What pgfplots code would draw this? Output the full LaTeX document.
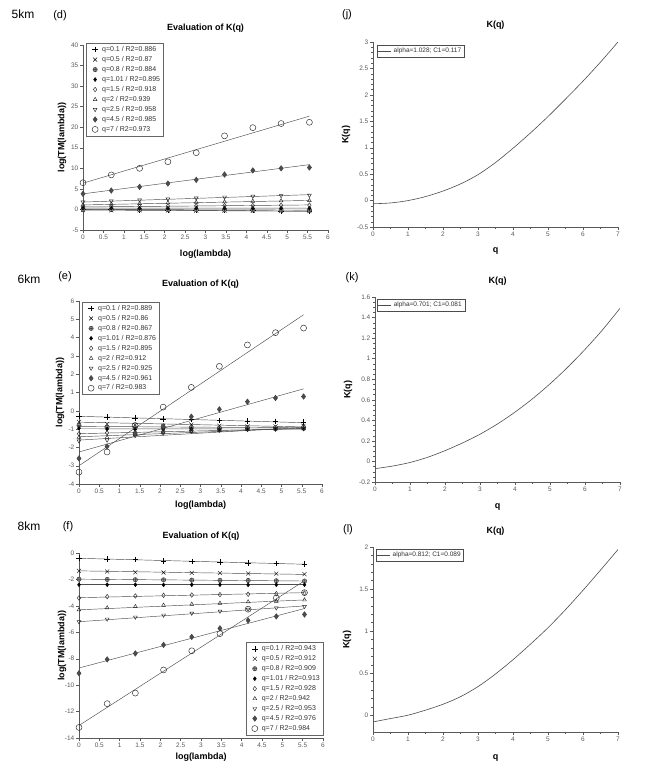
\documentclass[border=0pt]{standalone}
\usepackage{pgfplots}
\usepackage{pgfplotstable}
\pgfplotsset{compat=1.18}
\usepackage{fontspec}
\setmainfont{Liberation Sans}

\pgfplotstableread{
x q01 q05 q08 q101 q15 q2 q25 q45 q7
0     0.05 -0.15  0.00 0.30 0.60 1.10 1.80  3.8  6.5
0.693 0.00 -0.20 -0.02 0.32 0.70 1.30 2.05  4.6  8.4
1.386 -0.10 -0.20 -0.04 0.30 0.75 1.45 2.30  5.5 10.0
2.079 -0.15 -0.25 -0.05 0.30 0.80 1.60 2.55  6.3 11.6
2.773 -0.20 -0.30 -0.07 0.32 0.85 1.75 2.80  7.2 13.8
3.466 -0.25 -0.30 -0.09 0.30 0.90 1.85 3.00  8.5 17.9
4.159 -0.30 -0.35 -0.11 0.30 0.95 2.00 3.20  9.5 19.9
4.852 -0.38 -0.38 -0.13 0.32 1.00 2.10 3.35 10.0 20.9
5.545 -0.45 -0.40 -0.15 0.30 1.05 2.15 3.45 10.2 21.2
}\dataD

\pgfplotstableread{
x q01 q05 q08 q101 q15 q2 q25 q45 q7
0     -0.30 -0.60 -0.80 -0.95 -1.25 -1.45 -1.65 -2.60 -3.35
0.693 -0.35 -0.72 -0.90 -1.00 -1.20 -1.45 -1.60 -1.95 -2.25
1.386 -0.38 -0.78 -0.92 -1.02 -1.18 -1.30 -1.35 -1.25 -0.80
2.079 -0.45 -0.82 -0.90 -1.00 -1.12 -1.20 -1.22 -0.85  0.20
2.773 -0.48 -0.75 -0.92 -1.00 -1.08 -1.12 -1.12 -0.32  1.28
3.466 -0.52 -0.82 -0.95 -1.02 -1.05 -1.08 -1.05  0.08  2.43
4.159 -0.55 -0.85 -0.93 -1.00 -1.02 -1.02 -1.00  0.50  3.60
4.852 -0.58 -0.85 -0.92 -1.00 -1.00 -1.00 -0.98  0.70  4.27
5.545 -0.62 -0.82 -0.90 -0.98 -0.98 -0.98 -0.95  0.78  4.52
}\dataE

\pgfplotstableread{
x q01 q05 q08 q101 q15 q2 q25 q45 q7
0     -0.40 -1.35 -1.98 -2.40 -3.40 -4.30 -5.20 -9.10 -13.20
0.693 -0.45 -1.40 -2.00 -2.40 -3.30 -4.15 -5.00 -8.05 -11.40
1.386 -0.50 -1.45 -2.02 -2.40 -3.25 -4.05 -4.85 -7.60 -10.60
2.079 -0.60 -1.48 -2.03 -2.41 -3.20 -3.95 -4.70 -6.95  -8.85
2.773 -0.65 -1.50 -2.05 -2.40 -3.18 -3.88 -4.55 -6.35  -7.40
3.466 -0.70 -1.52 -2.07 -2.40 -3.15 -3.80 -4.40 -5.70  -6.10
4.159 -0.75 -1.55 -2.08 -2.41 -3.12 -3.70 -4.25 -5.10  -4.25
4.852 -0.80 -1.56 -2.10 -2.40 -3.08 -3.65 -4.15 -4.80  -3.40
5.545 -0.85 -1.60 -2.12 -2.40 -3.03 -3.55 -4.05 -4.65  -3.00
}\dataF

\pgfplotsset{
  base/.style={
    scale only axis,
    axis x line*=bottom, axis y line*=left,
    axis line style={black!65, line width=0.5pt},
    tick align=outside,
    tick style={black!65, line width=0.4pt},
    major tick length=3pt, minor tick length=1.6pt,
    /pgf/number format/assume math mode=true,
    tick label style={font=\fontsize{6.5}{7}\selectfont, text=black!65},
    xticklabel style={inner sep=1.5pt},
    yticklabel style={inner sep=1.5pt},
    title style={font=\bfseries\fontsize{9}{10}\selectfont, at={(axis description cs:0.5,1)}, anchor=center},
    label style={font=\bfseries\fontsize{9}{10}\selectfont},
  },
  leftp/.style={base,
    width=244pt, height=185pt,
    xmin=0, xmax=6, xtick={0,0.5,1,1.5,2,2.5,3,3.5,4,4.5,5,5.5,6},
    xlabel={log(lambda)}, ylabel={log(TM(lambda))},
    title={Evaluation of K(q)},
    legend style={font=\fontsize{7}{8}\selectfont, draw=black!60, line width=0.4pt,
      inner sep=1pt, row sep=-0.6pt, cells={anchor=west}, text=black!80},
    legend image code/.code={\path[draw=none, fill=none] (0pt,-2pt) rectangle (13pt,2pt); \draw[##1] plot coordinates {(8pt,0pt)};},
  },
  rightp/.style={base,
    width=245pt, height=185pt,
    xmin=0, xmax=7, xtick={0,1,2,3,4,5,6,7}, minor x tick num=1,
    xlabel={q}, ylabel={K(q)}, title={K(q)},
    legend style={font=\fontsize{6.5}{7}\selectfont, draw=black!70, line width=0.4pt,
      inner sep=1pt, text=black!80, at={(0.016,0.985)}, anchor=north west},
    legend image code/.code={\draw[##1] (2pt,0pt) -- (15pt,0pt);},
  },
  fitl/.style={black!70, line width=0.45pt},
  kcurve/.style={black!70, line width=0.6pt, smooth},
}

\newcommand{\markplots}[1]{%
  \addplot[only marks, mark=+, mark size=2.8pt, black, line width=0.4pt] table[x=x,y=q01]{#1};
  \addplot[only marks, mark=x, mark size=2.8pt, black, line width=0.4pt] table[x=x,y=q05]{#1};
  \addplot[only marks, mark=oplus*, mark size=2.2pt, black!80, fill=black!40, line width=0.4pt] table[x=x,y=q08]{#1};
  \addplot[only marks, mark=diamond*, mark size=2pt, black] table[x=x,y=q101]{#1};
  \addplot[only marks, mark=diamond, mark size=2.3pt, black!85, line width=0.45pt] table[x=x,y=q15]{#1};
  \addplot[only marks, mark=triangle, mark size=2.2pt, black!85, line width=0.45pt] table[x=x,y=q2]{#1};
  \addplot[only marks, mark=triangle, mark size=2.2pt, black!85, line width=0.45pt, mark options={rotate=180}] table[x=x,y=q25]{#1};
  \addplot[only marks, mark=diamond*, mark size=2.8pt, black!75, fill=black!70] table[x=x,y=q45]{#1};
  \addplot[only marks, mark=o, mark size=3pt, black!85, line width=0.45pt] table[x=x,y=q7]{#1};
}
\newcommand{\fitline}[2]{\addplot[fitl, forget plot] coordinates {(0,#1) (5.545,#2)};}

\begin{document}
\begin{tikzpicture}
\path[use as bounding box] (0pt,0pt) rectangle (661pt,-769pt);

% corner labels
\node[font=\fontsize{12}{13}\selectfont] at (23pt,-14pt) {5km};
\node[font=\fontsize{11}{12}\selectfont] at (60pt,-16pt) {(d)};
\node[font=\fontsize{11}{12}\selectfont] at (347pt,-15pt) {(j)};
\node[font=\fontsize{12}{13}\selectfont] at (29pt,-279pt) {6km};
\node[font=\fontsize{11}{12}\selectfont] at (65pt,-277pt) {(e)};
\node[font=\fontsize{11}{12}\selectfont] at (352pt,-278pt) {(k)};
\node[font=\fontsize{12}{13}\selectfont] at (29pt,-526pt) {8km};
\node[font=\fontsize{11}{12}\selectfont] at (68pt,-527pt) {(f)};
\node[font=\fontsize{11}{12}\selectfont] at (348pt,-530pt) {(l)};

% ---------- (d)
\begin{axis}[leftp, at={(83pt,-230pt)}, anchor=south west, width=245pt,
  ymin=-5, ymax=40, ytick={-5,0,5,10,15,20,25,30,35,40},
  title style={yshift=11pt},
  xlabel style={at={(axis description cs:0.5,0)}, anchor=center, yshift=-24pt},
  ylabel style={at={(axis description cs:0,0.5)}, anchor=center, yshift=21pt},
  legend style={at={(0.012,1.01)}, anchor=north west}]
\markplots{\dataD}
\fitline{0.05}{-0.45}
\fitline{-0.15}{-0.42}
\fitline{0}{-0.15}
\fitline{0.3}{0.31}
\fitline{0.6}{1.1}
\fitline{1.1}{2.2}
\fitline{1.8}{3.6}
\fitline{3.8}{10.9}
\fitline{6.4}{22.7}
\legend{q=0.1 / R2=0.886, q=0.5 / R2=0.87, q=0.8 / R2=0.884, q=1.01 / R2=0.895, q=1.5 / R2=0.918, q=2 / R2=0.939, q=2.5 / R2=0.958, q=4.5 / R2=0.985, q=7 / R2=0.973}
\end{axis}

% ---------- (e)
\begin{axis}[leftp, at={(79pt,-484pt)}, anchor=south west, width=243pt, height=183pt,
  ymin=-4, ymax=6, ytick={-4,-3,-2,-1,0,1,2,3,4,5,6},
  title style={yshift=11pt},
  xlabel style={at={(axis description cs:0.5,0)}, anchor=center, yshift=-21pt},
  ylabel style={at={(axis description cs:0,0.5)}, anchor=center, yshift=19pt},
  legend style={at={(0.012,0.995)}, anchor=north west}]
\markplots{\dataE}
\fitline{-0.3}{-0.65}
\fitline{-0.62}{-0.88}
\fitline{-0.85}{-0.93}
\fitline{-0.98}{-1.0}
\fitline{-1.25}{-0.97}
\fitline{-1.42}{-0.95}
\fitline{-1.6}{-0.9}
\fitline{-2.25}{1.2}
\fitline{-3.0}{5.25}
\legend{q=0.1 / R2=0.889, q=0.5 / R2=0.86, q=0.8 / R2=0.867, q=1.01 / R2=0.876, q=1.5 / R2=0.895, q=2 / R2=0.912, q=2.5 / R2=0.925, q=4.5 / R2=0.961, q=7 / R2=0.983}
\end{axis}

% ---------- (f)
\begin{axis}[leftp, at={(79pt,-738pt)}, anchor=south west, width=244pt,
  ymin=-14, ymax=0, ytick={-14,-12,-10,-8,-6,-4,-2,0},
  title style={yshift=11pt},
  xlabel style={at={(axis description cs:0.5,0)}, anchor=center, yshift=-19pt},
  ylabel style={at={(axis description cs:0,0.5)}, anchor=center, yshift=17pt},
  legend style={at={(1,0.016)}, anchor=south east}]
\markplots{\dataF}
\fitline{-0.4}{-0.85}
\fitline{-1.35}{-1.62}
\fitline{-1.98}{-2.12}
\fitline{-2.4}{-2.4}
\fitline{-3.38}{-3.0}
\fitline{-4.3}{-3.55}
\fitline{-5.2}{-4.0}
\fitline{-8.7}{-4.2}
\fitline{-13.05}{-2.1}
\legend{q=0.1 / R2=0.943, q=0.5 / R2=0.912, q=0.8 / R2=0.909, q=1.01 / R2=0.913, q=1.5 / R2=0.928, q=2 / R2=0.942, q=2.5 / R2=0.953, q=4.5 / R2=0.976, q=7 / R2=0.984}
\end{axis}

% ---------- (j)
\begin{axis}[rightp, at={(373pt,-227pt)}, anchor=south west,
  ymin=-0.5, ymax=3, ytick={-0.5,0,0.5,1,1.5,2,2.5,3}, minor y tick num=4,
  title style={yshift=11pt},
  xlabel style={at={(axis description cs:0.5,0)}, anchor=center, yshift=-24pt},
  ylabel style={at={(axis description cs:0,0.5)}, anchor=center, yshift=27pt}]
\addplot[kcurve] coordinates {(0,-0.06) (0.5,-0.045) (1,0.0) (1.5,0.075) (2,0.18) (2.5,0.315) (3,0.49) (3.5,0.72) (4,0.99) (4.5,1.28) (5,1.59) (5.5,1.92) (6,2.26) (6.5,2.62) (7,3.0)};
\legend{alpha=1.028; C1=0.117}
\end{axis}

% ---------- (k)
\begin{axis}[rightp, at={(375pt,-482pt)}, anchor=south west,
  ymin=-0.2, ymax=1.6, ytick={-0.2,0,0.2,0.4,0.6,0.8,1,1.2,1.4,1.6}, minor y tick num=3,
  title style={yshift=10pt},
  xlabel style={at={(axis description cs:0.5,0)}, anchor=center, yshift=-25pt},
  ylabel style={at={(axis description cs:0,0.5)}, anchor=center, yshift=27pt},
  legend style={at={(0.008,0.99)}}]
\addplot[kcurve] coordinates {(0,-0.07) (0.5,-0.045) (1,-0.01) (1.5,0.04) (2,0.105) (2.5,0.18) (3,0.265) (3.5,0.365) (4,0.48) (4.5,0.61) (5,0.755) (5.5,0.915) (6,1.09) (6.5,1.28) (7,1.49)};
\legend{alpha=0.701; C1=0.081}
\end{axis}

% ---------- (l)
\begin{axis}[rightp, at={(373pt,-732pt)}, anchor=south west,
  ymin=-0.2, ymax=2, ytick={0,0.5,1,1.5,2}, minor y tick num=4,
  title style={yshift=10pt},
  xlabel style={at={(axis description cs:0.5,0)}, anchor=center, yshift=-26pt},
  ylabel style={at={(axis description cs:0,0.5)}, anchor=center, yshift=26pt},
  legend style={at={(0.012,0.99)}}]
\addplot[kcurve] coordinates {(0,-0.08) (0.5,-0.04) (1,0.0) (1.5,0.06) (2,0.13) (2.5,0.22) (3,0.34) (3.5,0.49) (4,0.66) (4.5,0.845) (5,1.04) (5.5,1.255) (6,1.485) (6.5,1.725) (7,1.97)};
\legend{alpha=0.812; C1=0.089}
\end{axis}
\end{tikzpicture}
\end{document}
